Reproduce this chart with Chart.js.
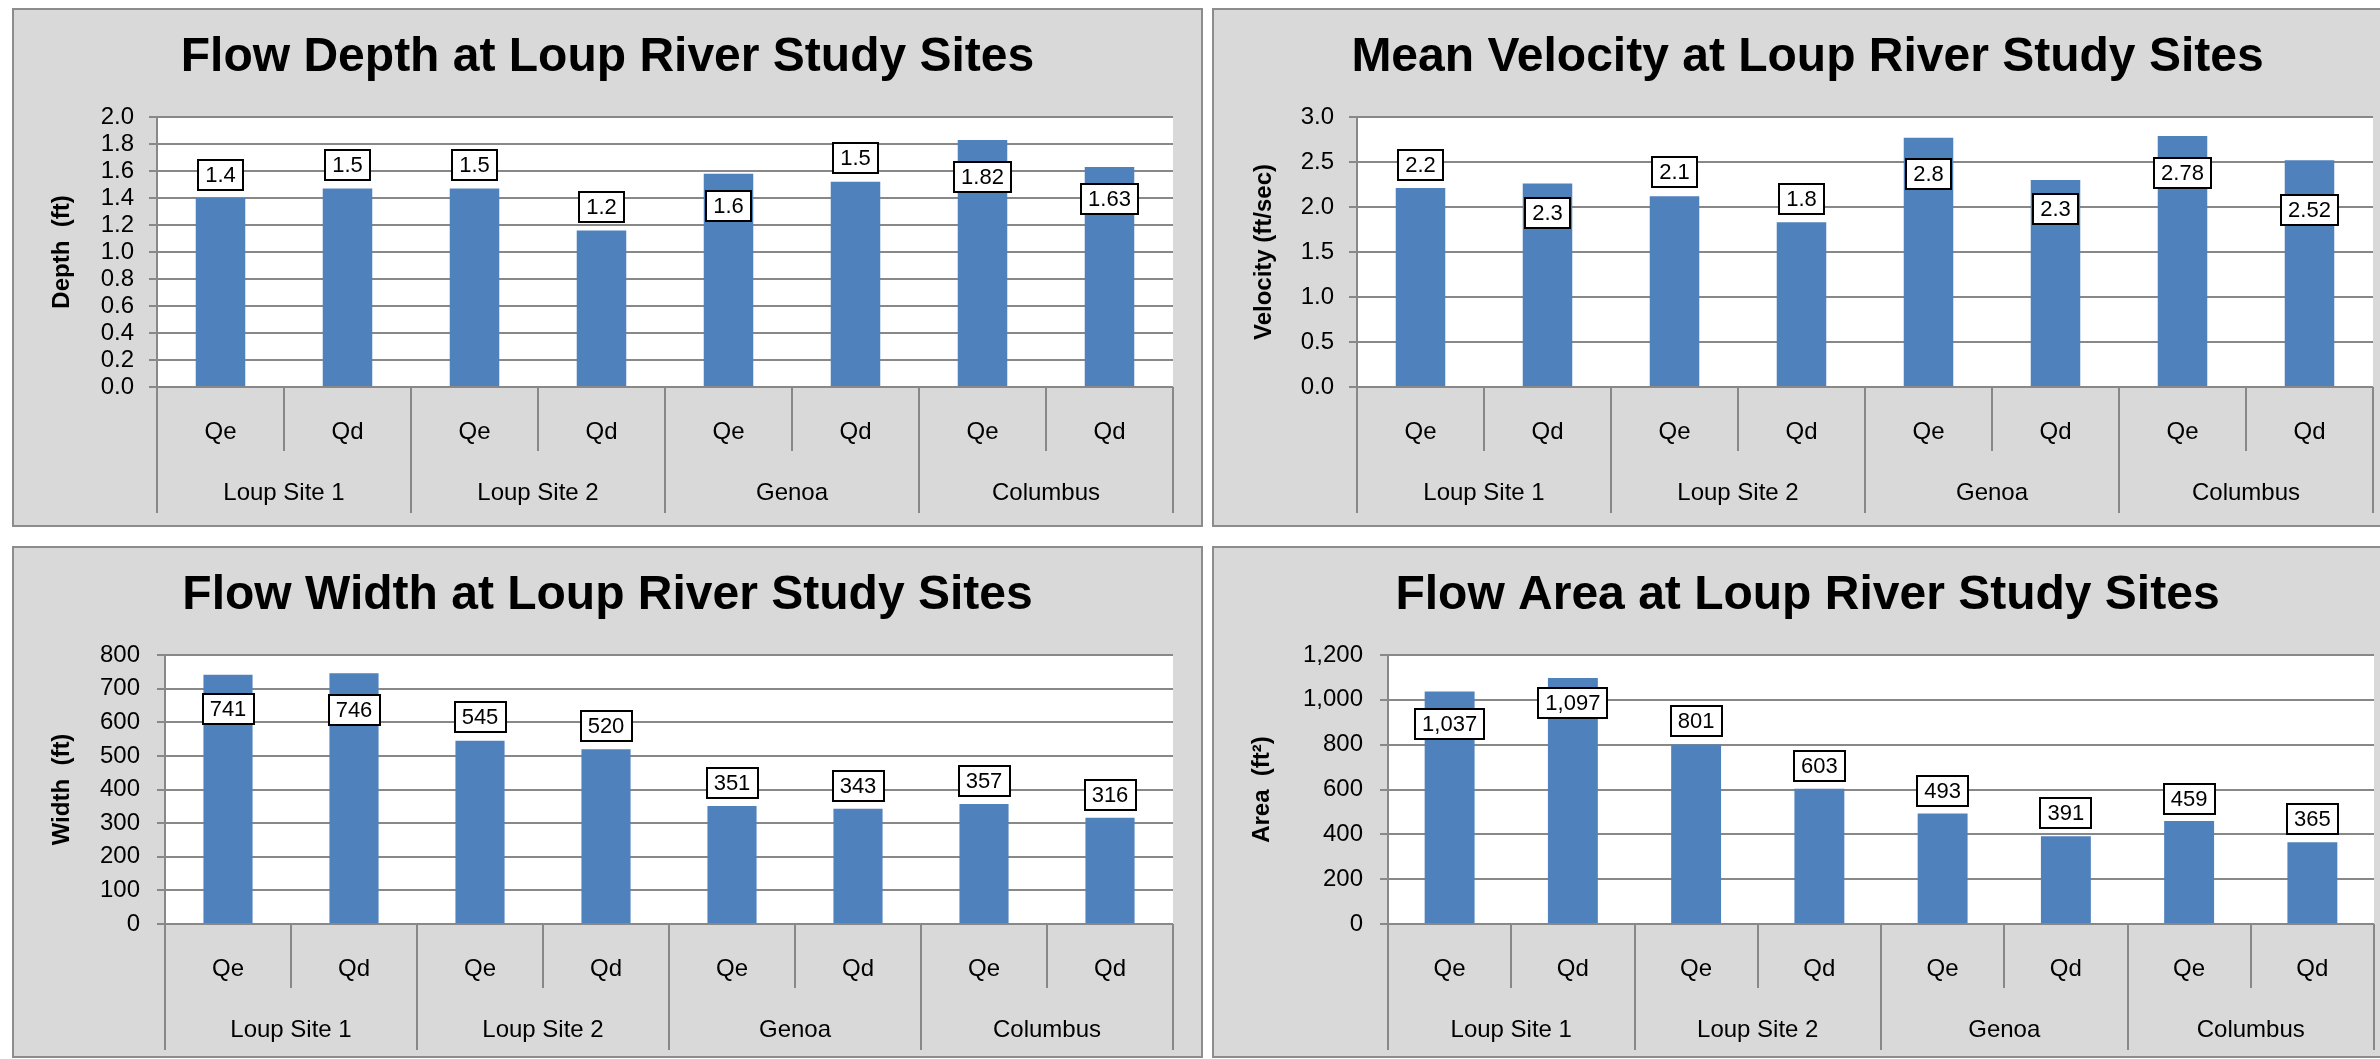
<!DOCTYPE html>
<html>
<head>
<meta charset="utf-8">
<title>Loup River Study Sites</title>
<script src="https://cdn.jsdelivr.net/npm/chart.js@4.4.0/dist/chart.umd.min.js"></script>
<style>
  html, body { margin: 0; padding: 0; background: #fff; }
  body { width: 2380px; height: 1059px; position: relative; overflow: hidden; }
  .panel { position: absolute; border: 2px solid #8c8c8c; background: #d9d9d9; }
  .panel canvas { display: block; }
</style>
</head>
<body>
<div class="panel" style="left:12px;top:8px;width:1187px;height:515px"><canvas id="depth-chart" width="1187" height="515"></canvas></div>
<div class="panel" style="left:1212px;top:8px;width:1187px;height:515px"><canvas id="velocity-chart" width="1187" height="515"></canvas></div>
<div class="panel" style="left:12px;top:546px;width:1187px;height:508px"><canvas id="width-chart" width="1187" height="508"></canvas></div>
<div class="panel" style="left:1212px;top:546px;width:1187px;height:508px"><canvas id="area-chart" width="1187" height="508"></canvas></div>

<script>
const FONT = '"Liberation Sans", Arial, sans-serif';
const BLUE = '#4f81bd';
const GRID = '#888888';

const sites = ['Loup Site 1', 'Loup Site 2', 'Genoa', 'Columbus'];
const flows = ['Qe', 'Qd'];

// bar heights; the boxes print rounded text
const depth = [1.40, 1.47, 1.47, 1.16, 1.58, 1.52, 1.83, 1.63];
const depthText = ['1.4', '1.5', '1.5', '1.2', '1.6', '1.5', '1.82', '1.63'];
const depthTicks = ['0.0', '0.2', '0.4', '0.6', '0.8', '1.0', '1.2', '1.4', '1.6', '1.8', '2.0'];

const velocity = [2.21, 2.26, 2.12, 1.83, 2.77, 2.30, 2.79, 2.52];
const velocityText = ['2.2', '2.3', '2.1', '1.8', '2.8', '2.3', '2.78', '2.52'];
const velocityTicks = ['0.0', '0.5', '1.0', '1.5', '2.0', '2.5', '3.0'];

const width = [741, 746, 545, 520, 351, 343, 357, 316];
const widthText = ['741', '746', '545', '520', '351', '343', '357', '316'];
const widthTicks = ['0', '100', '200', '300', '400', '500', '600', '700', '800'];

const area = [1037, 1097, 801, 603, 493, 391, 459, 365];
const areaText = ['1,037', '1,097', '801', '603', '493', '391', '459', '365'];
const areaTicks = ['0', '200', '400', '600', '800', '1,000', '1,200'];

// the label boxes were dragged around by hand in the original, centre of each box in axis units
const depthBoxAt = [1.57, 1.646, 1.646, 1.335, 1.343, 1.693, 1.558, 1.396];
const velocityBoxAt = [2.472, 1.933, 2.386, 2.09, 2.367, 1.975, 2.378, 1.965];
const widthBoxAt = [640, 637, 617, 589, 419, 411, 426, 384];
const areaBoxAt = [892, 987, 905, 705, 594, 496, 558, 469];

const toNum = s => parseFloat(s.replace(/,/g, ''));

// white boxes with a black frame, placed on the value axis
const boxLabels = {
  id: 'boxLabels',
  afterDatasetsDraw(chart, args, opts) {
    const ctx = chart.ctx;
    const y = chart.scales.y;
    ctx.save();
    ctx.font = '22px ' + FONT;
    ctx.textAlign = 'center';
    ctx.textBaseline = 'middle';
    chart.getDatasetMeta(0).data.forEach((bar, i) => {
      const txt = opts.text[i];
      const cy = Math.round(y.getPixelForValue(opts.at[i]));
      const w = Math.round(ctx.measureText(txt).width + 14);
      const h = 30;
      const bx = Math.round(bar.x - w / 2);
      ctx.fillStyle = '#fff';
      ctx.fillRect(bx, cy - h / 2, w, h);
      ctx.strokeStyle = '#000';
      ctx.lineWidth = 2;
      ctx.strokeRect(bx, cy - h / 2, w, h);
      ctx.fillStyle = '#000';
      ctx.fillText(txt, bar.x, cy + 1);
    });
    ctx.restore();
  }
};

// excel style two level category axis: flow under each bar, site under each pair
const groupedAxis = {
  id: 'groupedAxis',
  beforeDraw(chart) {
    const {ctx, chartArea: a} = chart;
    ctx.save();
    ctx.fillStyle = '#fff';
    ctx.fillRect(a.left, a.top, a.right - a.left, a.bottom - a.top);
    ctx.restore();
  },
  afterDraw(chart, args, opts) {
    const {ctx, chartArea: a} = chart;
    const x = chart.scales.x;
    const n = opts.flows.length;
    const count = chart.data.labels.length;
    const step = x.getPixelForValue(1) - x.getPixelForValue(0);
    const first = x.getPixelForValue(0) - step / 2;
    ctx.save();
    ctx.strokeStyle = GRID;
    ctx.lineWidth = 2;
    ctx.beginPath();
    for (let i = 0; i <= count; i++) {
      const ex = Math.round(first + i * step);
      const len = i % n === 0 ? opts.groupLen : opts.flowLen;
      ctx.moveTo(ex, a.bottom);
      ctx.lineTo(ex, a.bottom + len);
    }
    ctx.stroke();

    ctx.fillStyle = '#000';
    ctx.font = '24px ' + FONT;
    ctx.textAlign = 'center';
    ctx.textBaseline = 'middle';
    chart.data.labels.forEach((lab, i) => {
      ctx.fillText(lab, x.getPixelForValue(i), a.bottom + opts.flowY);
    });
    opts.sites.forEach((s, g) => {
      const cx = (x.getPixelForValue(g * n) + x.getPixelForValue(g * n + n - 1)) / 2;
      ctx.fillText(s, cx, a.bottom + opts.siteY);
    });
    ctx.restore();
  }
};

function makeChart(id, o) {
  const ticks = o.ticks;
  return new Chart(document.getElementById(id), {
    type: 'bar',
    data: {
      labels: sites.flatMap(() => flows),
      datasets: [{
        data: o.values,
        backgroundColor: BLUE,
        borderWidth: 0,
        barPercentage: o.barPct,
        categoryPercentage: 1
      }]
    },
    options: {
      responsive: false,
      animation: false,
      devicePixelRatio: 1,
      layout: { padding: 0 },
      plugins: {
        legend: { display: false },
        tooltip: { enabled: false },
        title: {
          display: true,
          text: o.title,
          color: '#000',
          font: { family: FONT, size: 48, weight: 'bold', lineHeight: 1.2 },
          padding: { top: 19, bottom: 30.4 }
        },
        boxLabels: { text: o.text, at: o.boxAt },
        groupedAxis: {
          sites: sites, flows: flows,
          flowY: 45, siteY: 106, flowLen: 64, groupLen: 126
        }
      },
      scales: {
        x: {
          ticks: { display: false },
          grid: { display: false },
          border: { display: false },
          afterFit: s => { s.height = s.chart.height - o.plotBottom; }
        },
        y: {
          min: toNum(ticks[0]),
          max: toNum(ticks[ticks.length - 1]),
          ticks: {
            stepSize: toNum(ticks[1]) - toNum(ticks[0]),
            autoSkip: false,
            padding: o.tickPad,
            color: '#000',
            font: { family: FONT, size: 24 },
            callback: (v, i) => ticks[i]
          },
          grid: { color: GRID, lineWidth: 2, tickLength: 8, drawTicks: true },
          border: { display: true, color: GRID, width: 2 },
          title: {
            display: true,
            text: o.yTitle,
            color: '#000',
            font: { family: FONT, size: 24, weight: 'bold' },
            padding: { top: o.titlePad, bottom: 0 }
          },
          afterFit: s => { s.width = o.plotLeft; }
        },
        // empty axis on the right, only keeps the plot clear of the panel edge
        yr: {
          position: 'right',
          ticks: { display: false },
          grid: { display: false, drawTicks: false },
          border: { display: false },
          afterFit: s => { s.width = o.padRight; }
        }
      }
    },
    plugins: [groupedAxis, boxLabels]
  });
}

makeChart('depth-chart', {
  title: 'Flow Depth at Loup River Study Sites',
  yTitle: 'Depth  (ft)',
  values: depth, text: depthText, boxAt: depthBoxAt, ticks: depthTicks,
  plotLeft: 143, padRight: 28, plotBottom: 377, tickPad: 15, titlePad: 34, barPct: 0.39
});

makeChart('velocity-chart', {
  title: 'Mean Velocity at Loup River Study Sites',
  yTitle: 'Velocity (ft/sec)',
  values: velocity, text: velocityText, boxAt: velocityBoxAt, ticks: velocityTicks,
  plotLeft: 143, padRight: 28, plotBottom: 377, tickPad: 15, titlePad: 36, barPct: 0.39
});

makeChart('width-chart', {
  title: 'Flow Width at Loup River Study Sites',
  yTitle: 'Width  (ft)',
  values: width, text: widthText, boxAt: widthBoxAt, ticks: widthTicks,
  plotLeft: 151, padRight: 28, plotBottom: 376, tickPad: 17, titlePad: 34, barPct: 0.39
});

makeChart('area-chart', {
  title: 'Flow Area at Loup River Study Sites',
  yTitle: 'Area  (ft\u00b2)',
  values: area, text: areaText, boxAt: areaBoxAt, ticks: areaTicks,
  plotLeft: 174, padRight: 27, plotBottom: 376, tickPad: 17, titlePad: 34, barPct: 0.405
});
</script>
</body>
</html>
